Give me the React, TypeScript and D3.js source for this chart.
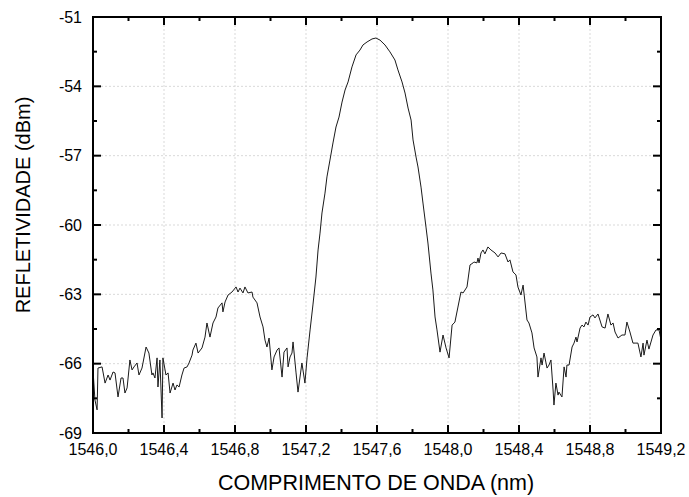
import React, { useEffect, useRef } from "react";
import * as d3 from "d3";

const wavelength: number[] = [
  1546.000, 1546.011, 1546.023, 1546.028, 1546.051, 1546.068, 1546.085, 1546.096, 1546.113, 1546.124,
  1546.141, 1546.158, 1546.169, 1546.180, 1546.192, 1546.208, 1546.220, 1546.231, 1546.248, 1546.259,
  1546.276, 1546.299, 1546.315, 1546.332, 1546.338, 1546.349, 1546.361, 1546.366, 1546.377, 1546.389,
  1546.394, 1546.411, 1546.423, 1546.434, 1546.451, 1546.462, 1546.473, 1546.485, 1546.501, 1546.513,
  1546.530, 1546.541, 1546.558, 1546.563, 1546.580, 1546.592, 1546.614, 1546.631, 1546.642, 1546.659,
  1546.676, 1546.693, 1546.704, 1546.727, 1546.732, 1546.744, 1546.761, 1546.783, 1546.806, 1546.817,
  1546.828, 1546.845, 1546.856, 1546.873, 1546.896, 1546.901, 1546.924, 1546.941, 1546.958, 1546.969,
  1546.980, 1546.992, 1547.008, 1547.020, 1547.037, 1547.048, 1547.065, 1547.076, 1547.093, 1547.099,
  1547.110, 1547.121, 1547.127, 1547.144, 1547.155, 1547.177, 1547.194, 1547.206, 1547.223, 1547.239,
  1547.256, 1547.268, 1547.279, 1547.290, 1547.307, 1547.318, 1547.335, 1547.352, 1547.369, 1547.386,
  1547.403, 1547.420, 1547.437, 1547.459, 1547.482, 1547.504, 1547.521, 1547.544, 1547.572, 1547.594,
  1547.617, 1547.645, 1547.673, 1547.701, 1547.718, 1547.741, 1547.758, 1547.775, 1547.792, 1547.803,
  1547.820, 1547.831, 1547.848, 1547.859, 1547.876, 1547.887, 1547.904, 1547.915, 1547.927, 1547.938,
  1547.955, 1547.972, 1547.989, 1548.006, 1548.023, 1548.039, 1548.056, 1548.073, 1548.085, 1548.107,
  1548.124, 1548.141, 1548.146, 1548.163, 1548.169, 1548.175, 1548.186, 1548.197, 1548.208, 1548.225,
  1548.242, 1548.265, 1548.282, 1548.299, 1548.321, 1548.338, 1548.349, 1548.366, 1548.383, 1548.394,
  1548.411, 1548.423, 1548.445, 1548.456, 1548.473, 1548.485, 1548.501, 1548.507, 1548.524, 1548.530,
  1548.541, 1548.558, 1548.569, 1548.580, 1548.592, 1548.597, 1548.608, 1548.620, 1548.625, 1548.642,
  1548.654, 1548.665, 1548.670, 1548.682, 1548.699, 1548.710, 1548.721, 1548.727, 1548.744, 1548.755,
  1548.766, 1548.777, 1548.789, 1548.800, 1548.817, 1548.828, 1548.845, 1548.868, 1548.885, 1548.901,
  1548.918, 1548.930, 1548.941, 1548.958, 1548.980, 1548.997, 1549.008, 1549.025, 1549.042, 1549.054,
  1549.070, 1549.087, 1549.099, 1549.104, 1549.121, 1549.132, 1549.155, 1549.172, 1549.189, 1549.200,
];

const reflectivity: number[] = [
  -66.27, -67.57, -68.00, -66.19, -66.14, -66.84, -66.49, -66.71, -66.36, -66.40,
  -67.44, -66.62, -66.62, -67.27, -67.05, -65.84, -66.27, -66.14, -65.97, -66.49,
  -66.19, -65.28, -65.54, -66.49, -66.40, -66.62, -65.75, -67.01, -65.84, -68.35,
  -65.75, -66.49, -66.40, -67.27, -66.84, -67.14, -66.92, -67.01, -66.49, -66.19,
  -66.14, -65.97, -65.63, -65.41, -65.11, -65.54, -65.32, -64.85, -64.24, -64.85,
  -64.24, -63.98, -63.59, -63.37, -63.76, -63.33, -63.03, -62.90, -62.68, -62.90,
  -62.73, -62.94, -62.68, -62.94, -62.90, -63.12, -63.37, -63.98, -64.41, -64.98,
  -65.28, -64.89, -66.27, -65.71, -65.41, -65.32, -66.58, -65.50, -65.32, -66.14,
  -65.71, -65.54, -65.06, -66.40, -67.23, -65.97, -66.84, -65.75, -64.54, -63.46,
  -62.25, -61.08, -60.35, -59.48, -58.62, -57.92, -57.19, -56.45, -55.76, -55.33,
  -54.68, -54.16, -53.81, -53.16, -52.64, -52.43, -52.21, -52.08, -51.95, -51.91,
  -52.00, -52.21, -52.51, -52.86, -53.29, -53.81, -54.29, -54.94, -55.46, -56.32,
  -57.06, -57.49, -58.36, -59.05, -60.09, -60.78, -62.08, -62.81, -63.98, -64.54,
  -65.50, -64.76, -65.32, -65.75, -64.33, -64.20, -63.55, -62.90, -62.94, -62.68,
  -61.73, -61.64, -61.60, -61.64, -61.43, -61.64, -61.21, -61.08, -61.25, -60.95,
  -61.08, -61.21, -61.38, -61.21, -61.25, -61.60, -61.51, -62.03, -62.16, -62.68,
  -63.03, -62.60, -64.11, -64.24, -64.67, -65.32, -65.71, -66.58, -65.75, -66.06,
  -65.54, -66.19, -66.06, -65.84, -67.14, -67.79, -66.84, -67.36, -67.23, -67.44,
  -66.14, -66.58, -66.06, -66.06, -65.28, -65.11, -64.85, -65.06, -64.46, -64.33,
  -64.41, -64.20, -64.33, -63.98, -63.89, -64.02, -63.85, -64.41, -64.46, -63.85,
  -64.33, -64.24, -64.63, -64.89, -64.76, -64.76, -64.20, -64.63, -65.11, -65.11,
  -65.11, -65.71, -65.11, -65.63, -64.98, -65.37, -64.76, -64.54, -64.54, -64.98,
];

const xTicks: number[] = [1546.0, 1546.4, 1546.8, 1547.2, 1547.6, 1548.0, 1548.4, 1548.8, 1549.2];
const yTicks: number[] = [-69, -66, -63, -60, -57, -54, -51];

const xTitle = "COMPRIMENTO DE ONDA (nm)";
const yTitle = "REFLETIVIDADE (dBm)";

const W = 689;
const H = 497;
const L = 93, R = 661, T = 17, B = 433;
const FONT = "'Liberation Sans', Arial, Helvetica, sans-serif";

export default function App() {
  const ref = useRef<SVGSVGElement | null>(null);

  useEffect(() => {
    const svg = d3.select(ref.current);
    svg.selectAll("*").remove();

    const x = d3.scaleLinear().domain([1546.0, 1549.2]).range([L, R]);
    const y = d3.scaleLinear().domain([-69, -51]).range([B, T]);

    svg.append("rect").attr("width", W).attr("height", H).attr("fill", "#fff");

    // grid
    const grid = svg.append("g").attr("stroke", "#d9d9d9").attr("stroke-width", 1).attr("stroke-dasharray", "2,2");
    xTicks.slice(1, -1).forEach((t) => {
      grid.append("line").attr("x1", x(t)).attr("x2", x(t)).attr("y1", T).attr("y2", B);
    });
    yTicks.slice(1, -1).forEach((t) => {
      grid.append("line").attr("x1", L).attr("x2", R).attr("y1", y(t)).attr("y2", y(t));
    });

    // line
    const pts = wavelength.map((w, i) => [w, reflectivity[i]] as [number, number]);
    const line = d3.line<[number, number]>().x((d) => x(d[0])).y((d) => y(d[1]));
    svg.append("path").attr("d", line(pts) || "").attr("fill", "none").attr("stroke", "#1a1a1a").attr("stroke-width", 1);

    // ticks (inward)
    const tk = svg.append("g").attr("stroke", "#000").attr("stroke-width", 2);
    const xMinor = xTicks.slice(0, -1).map((t) => t + 0.2);
    const yMinor = yTicks.slice(0, -1).map((t) => t + 1.5);
    xTicks.forEach((t) => {
      tk.append("line").attr("x1", x(t)).attr("x2", x(t)).attr("y1", B).attr("y2", B - 8);
      tk.append("line").attr("x1", x(t)).attr("x2", x(t)).attr("y1", T).attr("y2", T + 8);
    });
    xMinor.forEach((t) => {
      tk.append("line").attr("x1", x(t)).attr("x2", x(t)).attr("y1", B).attr("y2", B - 4);
      tk.append("line").attr("x1", x(t)).attr("x2", x(t)).attr("y1", T).attr("y2", T + 4);
    });
    yTicks.forEach((t) => {
      tk.append("line").attr("x1", L).attr("x2", L + 8).attr("y1", y(t)).attr("y2", y(t));
      tk.append("line").attr("x1", R).attr("x2", R - 8).attr("y1", y(t)).attr("y2", y(t));
    });
    yMinor.forEach((t) => {
      tk.append("line").attr("x1", L).attr("x2", L + 4).attr("y1", y(t)).attr("y2", y(t));
      tk.append("line").attr("x1", R).attr("x2", R - 4).attr("y1", y(t)).attr("y2", y(t));
    });

    // frame
    svg.append("rect").attr("x", L).attr("y", T).attr("width", R - L).attr("height", B - T)
      .attr("fill", "none").attr("stroke", "#000").attr("stroke-width", 2);

    // labels
    const fmt = d3.format(".1f");
    svg.append("g").selectAll("text").data(xTicks).join("text")
      .attr("x", (d) => x(d)).attr("y", B + 22)
      .attr("text-anchor", "middle").attr("font-family", FONT).attr("font-size", 16).attr("fill", "#000")
      .text((d) => fmt(d).replace(".", ","));
    svg.append("g").selectAll("text").data(yTicks).join("text")
      .attr("x", L - 11).attr("y", (d) => y(d)).attr("dy", "0.35em")
      .attr("text-anchor", "end").attr("font-family", FONT).attr("font-size", 16).attr("fill", "#000")
      .text((d) => String(d));

    svg.append("text").attr("x", 376).attr("y", 490).attr("text-anchor", "middle")
      .attr("font-family", FONT).attr("font-size", 21.5).attr("fill", "#000").text(xTitle);
    svg.append("text").attr("transform", `translate(30,${205}) rotate(-90)`).attr("text-anchor", "middle")
      .attr("font-family", FONT).attr("font-size", 20).attr("fill", "#000").text(yTitle);
  }, []);

  return (
    <svg ref={ref} width={W} height={H} style={{ position: "absolute", left: 0, top: 0, display: "block" }} />
  );
}
